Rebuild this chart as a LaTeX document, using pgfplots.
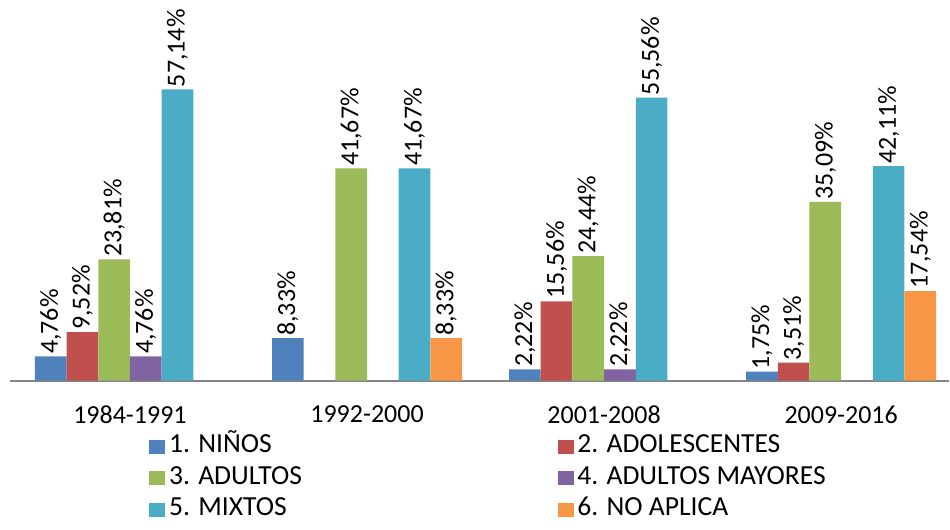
\documentclass[border=0pt]{standalone}
\usepackage{pgfplots}
\pgfplotsset{compat=1.18}
\usepackage{fontspec}
\setmainfont{Carlito}

\definecolor{cNin}{HTML}{4F81BD}
\definecolor{cAdo}{HTML}{C0504D}
\definecolor{cAdu}{HTML}{9BBB59}
\definecolor{cMay}{HTML}{8064A2}
\definecolor{cMix}{HTML}{4BACC6}
\definecolor{cNoa}{HTML}{F79646}

\begin{document}
\begin{tikzpicture}[font=\fontsize{13}{15}\selectfont]
\begin{axis}[
name=main,
scale only axis,
width=470pt,
height=190.5pt,
xmin=-0.506, xmax=3.455,
ymin=0, ymax=74.7,
ybar=0pt,
bar width=15.85pt,
axis y line=none,
axis x line*=bottom,
x axis line style={draw=black!48, line width=1pt},
xtick={0,1,2,3},
xticklabels={1984-1991,1992-2000,2001-2008,2009-2016},
major tick length=0pt,
xticklabel style={font=\fontsize{13}{15}\selectfont, yshift=-9pt},
clip=false,
/pgf/number format/assume math mode=true,
nodes near coords={\pgfmathprintnumber[fixed,fixed zerofill,precision=2,use comma]{\pgfplotspointmeta}\%},
every node near coord/.append style={rotate=90, anchor=west, inner sep=1pt, font=\fontsize{13}{15}\selectfont, text=black},
legend columns=2,
legend cell align=left,
legend image code/.code={\fill[#1] (0pt,-3.5pt) rectangle (8pt,3.5pt);},
legend style={at={(0.1415,-0.121)}, anchor=north west, draw=none, fill=none,
  font=\fontsize{13.8}{15}\selectfont, row sep=0pt,
  nodes={text height=9pt, text depth=3pt, inner sep=1.9pt},
  /tikz/every even column/.append style={column sep=126pt}},
]
\addplot[fill=cNin, draw=none] coordinates {(0,4.76) (1,8.33) (2,2.22) (3,1.75)};
\addlegendentry{1. NIÑOS}
\addplot[fill=cAdo, draw=none] coordinates {(0,9.52) (2,15.56) (3,3.51)};
\addlegendentry{2. ADOLESCENTES}
\addplot[fill=cAdu, draw=none] coordinates {(0,23.81) (1,41.67) (2,24.44) (3,35.09)};
\addlegendentry{3. ADULTOS}
\addplot[fill=cMay, draw=none] coordinates {(0,4.76) (2,2.22)};
\addlegendentry{4. ADULTOS MAYORES}
\addplot[fill=cMix, draw=none] coordinates {(0,57.14) (1,41.67) (2,55.56) (3,42.11)};
\addlegendentry{5. MIXTOS}
\addplot[fill=cNoa, draw=none] coordinates {(1,8.33) (3,17.54)};
\addlegendentry{6. NO APLICA}
\end{axis}
\useasboundingbox ([xshift=-5pt,yshift=-70pt]main.south west) rectangle (main.north east);
\end{tikzpicture}
\end{document}
